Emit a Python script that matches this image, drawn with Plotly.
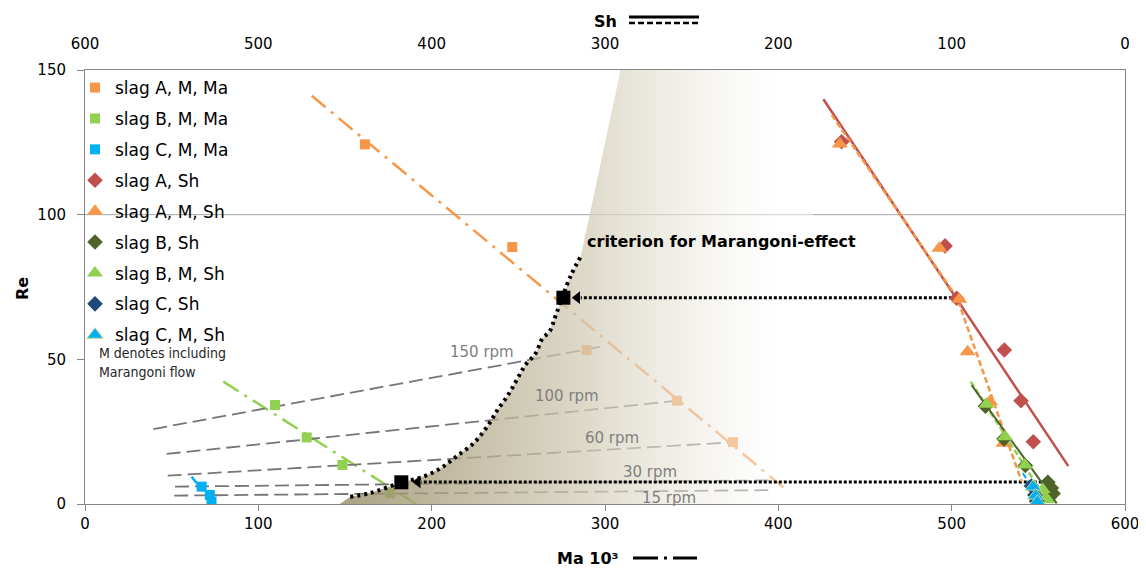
import plotly.graph_objects as go

# ---------------- data ----------------
# Series plotted against Ma 10^3 (bottom axis)
A_M_MA_X = [161.5, 246.5, 289.4, 341.5, 373.8]
A_M_MA_Y = [124.3, 88.8, 53.2, 35.7, 21.4]
B_M_MA_X = [109.6, 127.9, 148.5, 176.0]
B_M_MA_Y = [34.2, 23.0, 13.5, 3.7]
C_M_MA_X = [67.3, 72.0, 73.0]
C_M_MA_Y = [6.0, 3.1, 0.8]

# Trendlines (Ma)
A_MA_TREND_X = [130.8, 404.8]
A_MA_TREND_Y = [141.1, 4.8]
B_MA_TREND_X = [79.8, 191.0]
B_MA_TREND_Y = [42.3, 0.0]
C_MA_TREND_X = [61.5, 74.0]
C_MA_TREND_Y = [9.4, 0.2]

# Series plotted against Sh (top axis, reversed)
A_SH_X = [163.5, 103.8, 97.1, 69.6, 60.0, 52.9]
A_SH_Y = [125.2, 89.2, 71.1, 53.2, 35.7, 21.5]
A_M_SH_X = [164.5, 107.1, 95.6, 90.8, 77.9, 70.2]
A_M_SH_Y = [124.4, 88.4, 70.8, 52.6, 35.4, 21.0]
B_SH_X = [80.5, 69.8, 57.5, 44.5, 42.5, 41.5]
B_SH_Y = [33.8, 22.5, 13.3, 7.5, 5.5, 3.6]
B_M_SH_X = [80.0, 69.2, 57.7, 47.5, 46.0, 45.0]
B_M_SH_Y = [34.5, 23.2, 13.5, 5.0, 2.5, 1.5]
C_SH_X = [54.0, 52.0, 51.0]
C_SH_Y = [6.2, 3.1, 1.0]
C_M_SH_X = [53.0, 51.5, 50.5]
C_M_SH_Y = [6.0, 2.9, 0.8]

# Trendlines (Sh)
A_SH_TREND_X = [174.0, 32.7]
A_SH_TREND_Y = [139.9, 13.1]
A_M_SH_TREND_X = [169.2, 96.9, 59.6]
A_M_SH_TREND_Y = [134.5, 71.3, 7.7]
B_SH_TREND_X = [88.5, 39.4]
B_SH_TREND_Y = [41.1, 0.2]
B_M_SH_TREND_X = [89.0, 46.0]
B_M_SH_TREND_Y = [42.3, 2.0]
C_M_SH_TREND_X = [59.0, 49.0]
C_M_SH_TREND_Y = [10.7, 1.4]

# Rotation speed lines (Ma axis)
RPM_LABELS = ["150 rpm", "100 rpm", "60 rpm", "30 rpm", "15 rpm"]
RPM_X0 = [39.4, 47.1, 47.7, 51.9, 51.5]
RPM_Y0 = [25.9, 17.3, 9.8, 6.0, 2.9]
RPM_X1 = [298.0, 345.0, 373.0, 397.0, 397.0]
RPM_Y1 = [54.4, 35.9, 21.3, 8.2, 4.8]
RPM_LABEL_X = [228.8, 277.9, 303.8, 326.0, 337.0]
RPM_LABEL_Y = [52.6, 37.4, 22.7, 11.2, 2.0]

# Criterion for Marangoni effect (Ma axis)
CRIT_X = [153, 164, 183, 195, 205, 214, 224, 232, 238, 244, 249, 254, 260, 264, 268, 272, 280, 286]
CRIT_Y = [2.5, 3.7, 7.5, 9.4, 12.3, 16.3, 20.9, 26.7, 32.5, 37.6, 42.8, 48.0, 52.1, 57.3, 59.6, 65.9, 78.6, 85.5]
CRIT_PTS_X = [276.0, 182.5]
CRIT_PTS_Y = [71.3, 7.5]

# Shaded region boundary (Ma axis)
SHADE_X = [147] + CRIT_X + [309, 420, 420]
SHADE_Y = [0] + CRIT_Y + [150, 150, 0]

# Arrows (from Sh-series points to criterion)
ARROW_TAIL_X = [503.0, 552.0]
ARROW_TIP_X = [282.0, 190.0]
ARROW_Y = [71.3, 7.6]

GRID_RE = 100

# ---------------- styles ----------------
ORANGE = "#F79646"
GREEN = "#92D050"
BLUE = "#00B0F0"
RED = "#C0504D"
DGREEN = "#4F6228"
DBLUE = "#1F497D"
FONT = "DejaVu Sans, Arial, sans-serif"
NARROW = "DejaVu Sans Condensed, DejaVu Sans, Arial"

# page body has an 8px margin: figure is laid out in screen pixels minus 8
OFF = 8
W, H = 1146 - OFF, 570 - OFF
PL, PR, PT, PB = 85, 1125, 70, 504          # plot area in screen pixels
ML, MT = PL - OFF, PT - OFF
MR, MB = W - (PR - OFF), H - (PB - OFF)
PW, PH = PR - PL, PB - PT


def px(x):
    return (x - PL) / PW


def py(y):
    return (PB - y) / PH


fig = go.Figure()

# --- Ma trendlines ---
for xs, ys, col in [(A_MA_TREND_X, A_MA_TREND_Y, ORANGE),
                    (B_MA_TREND_X, B_MA_TREND_Y, GREEN),
                    (C_MA_TREND_X, C_MA_TREND_Y, BLUE)]:
    fig.add_trace(go.Scatter(x=xs, y=ys, mode="lines", showlegend=False, hoverinfo="skip",
                             line=dict(color=col, width=2.5, dash="18px,7px,3px,7px")))

# --- rpm lines ---
for i in range(len(RPM_LABELS)):
    fig.add_trace(go.Scatter(x=[RPM_X0[i], RPM_X1[i]], y=[RPM_Y0[i], RPM_Y1[i]], mode="lines",
                             showlegend=False, hoverinfo="skip",
                             line=dict(color="#767676", width=1.8, dash="14px,6px")))

# --- Ma markers ---
fig.add_trace(go.Scatter(x=A_M_MA_X, y=A_M_MA_Y, mode="markers", name="slag A, M, Ma",
                         legendgroup="g1", marker=dict(symbol="square", size=10, color=ORANGE)))
fig.add_trace(go.Scatter(x=B_M_MA_X, y=B_M_MA_Y, mode="markers", name="slag B, M, Ma",
                         legendgroup="g2", marker=dict(symbol="square", size=10, color=GREEN)))
fig.add_trace(go.Scatter(x=C_M_MA_X, y=C_M_MA_Y, mode="markers", name="slag C, M, Ma",
                         legendgroup="g3", marker=dict(symbol="square", size=10, color=BLUE)))

# --- shaded region (gradient, on top of earlier marks) ---
fig.add_trace(go.Scatter(x=SHADE_X, y=SHADE_Y, mode="lines", fill="toself", showlegend=False,
                         hoverinfo="skip", line=dict(width=0, color="rgba(0,0,0,0)"),
                         fillgradient=dict(type="horizontal", start=150, stop=400,
                                           colorscale=[[0, "rgba(148,137,98,0.78)"],
                                                       [0.55, "rgba(210,204,182,0.75)"],
                                                       [1, "rgba(255,255,255,0.45)"]])))

# --- criterion curve ---
fig.add_trace(go.Scatter(x=CRIT_X, y=CRIT_Y, mode="lines", showlegend=False, hoverinfo="skip",
                         line=dict(color="black", width=4, dash="3px,4px", shape="spline")))

# --- arrows ---
for i in range(len(ARROW_Y)):
    fig.add_trace(go.Scatter(x=[ARROW_TAIL_X[i], ARROW_TIP_X[i] + 4], y=[ARROW_Y[i], ARROW_Y[i]],
                             mode="lines", showlegend=False, hoverinfo="skip",
                             line=dict(color="black", width=3, dash="3px,2px")))
    fig.add_trace(go.Scatter(x=[ARROW_TIP_X[i] + 2], y=[ARROW_Y[i]], mode="markers",
                             showlegend=False, hoverinfo="skip",
                             marker=dict(symbol="triangle-left", size=11, color="black")))

fig.add_trace(go.Scatter(x=CRIT_PTS_X, y=CRIT_PTS_Y, mode="markers", showlegend=False,
                         hoverinfo="skip", marker=dict(symbol="square", size=14, color="black")))

# --- Sh trendlines ---
fig.add_trace(go.Scatter(x=A_SH_TREND_X, y=A_SH_TREND_Y, xaxis="x2", mode="lines", showlegend=False,
                         hoverinfo="skip", line=dict(color=RED, width=2.5)))
fig.add_trace(go.Scatter(x=A_M_SH_TREND_X, y=A_M_SH_TREND_Y, xaxis="x2", mode="lines", showlegend=False,
                         hoverinfo="skip", line=dict(color=ORANGE, width=2.5, dash="6px,3px")))
fig.add_trace(go.Scatter(x=B_M_SH_TREND_X, y=B_M_SH_TREND_Y, xaxis="x2", mode="lines", showlegend=False,
                         hoverinfo="skip", line=dict(color=GREEN, width=2.5, dash="6px,3px")))
fig.add_trace(go.Scatter(x=B_SH_TREND_X, y=B_SH_TREND_Y, xaxis="x2", mode="lines", showlegend=False,
                         hoverinfo="skip", line=dict(color=DGREEN, width=2)))
fig.add_trace(go.Scatter(x=C_M_SH_TREND_X, y=C_M_SH_TREND_Y, xaxis="x2", mode="lines", showlegend=False,
                         hoverinfo="skip", line=dict(color=BLUE, width=2, dash="6px,3px")))

# --- Sh markers ---
fig.add_trace(go.Scatter(x=A_SH_X, y=A_SH_Y, xaxis="x2", mode="markers", name="slag A, Sh",
                         legendgroup="g4", marker=dict(symbol="diamond", size=12, color=RED)))
fig.add_trace(go.Scatter(x=A_M_SH_X, y=A_M_SH_Y, xaxis="x2", mode="markers", name="slag A, M, Sh",
                         legendgroup="g5", marker=dict(symbol="triangle-up", size=14, color=ORANGE)))
fig.add_trace(go.Scatter(x=B_SH_X, y=B_SH_Y, xaxis="x2", mode="markers", name="slag B, Sh",
                         legendgroup="g6", marker=dict(symbol="diamond", size=12, color=DGREEN)))
fig.add_trace(go.Scatter(x=B_M_SH_X, y=B_M_SH_Y, xaxis="x2", mode="markers", name="slag B, M, Sh",
                         legendgroup="g7", marker=dict(symbol="triangle-up", size=14, color=GREEN)))
fig.add_trace(go.Scatter(x=C_SH_X, y=C_SH_Y, xaxis="x2", mode="markers", name="slag C, Sh",
                         legendgroup="g8", marker=dict(symbol="diamond", size=12, color=DBLUE)))
fig.add_trace(go.Scatter(x=C_M_SH_X, y=C_M_SH_Y, xaxis="x2", mode="markers", name="slag C, M, Sh",
                         legendgroup="g9", marker=dict(symbol="triangle-up", size=14, color=BLUE,
                                                       line=dict(color="#C4D79B", width=1))))

# --- annotations ---
annotations = []
for i, lab in enumerate(RPM_LABELS):
    annotations.append(dict(x=RPM_LABEL_X[i], y=RPM_LABEL_Y[i], xref="x", yref="y", text=lab,
                            showarrow=False, xanchor="center", yanchor="middle",
                            font=dict(family=FONT, size=15, color="#808080")))
annotations += [
    dict(x=288.5, y=90.9, xref="x", yref="y", text="<b>criterion for Marangoni-effect</b>",
         showarrow=False, xanchor="left", yanchor="middle",
         font=dict(family=FONT, size=16, color="black")),
    dict(x=px(97), y=py(353), xref="paper", yref="paper", text="M denotes including",
         showarrow=False, xanchor="left", yanchor="middle",
         font=dict(family=NARROW, size=14, color="#262626")),
    dict(x=px(97), y=py(372), xref="paper", yref="paper", text="Marangoni flow",
         showarrow=False, xanchor="left", yanchor="middle",
         font=dict(family=NARROW, size=14, color="#262626")),
    dict(x=px(22), y=py(289), xref="paper", yref="paper", text="<b>Re</b>", textangle=-90,
         showarrow=False, xanchor="center", yanchor="middle",
         font=dict(family=FONT, size=16, color="black")),
    dict(x=px(621), y=py(558), xref="paper", yref="paper", text="<b>Ma 10³</b>",
         showarrow=False, xanchor="right", yanchor="middle",
         font=dict(family=FONT, size=16, color="black")),
    dict(x=px(619), y=py(21), xref="paper", yref="paper", text="<b>Sh</b>",
         showarrow=False, xanchor="right", yanchor="middle",
         font=dict(family=FONT, size=16, color="black")),
]

shapes = [
    dict(type="line", xref="x", yref="y", x0=0, x1=600, y0=GRID_RE, y1=GRID_RE,
         line=dict(color="#A6A6A6", width=1), layer="below"),
    # axis-title line symbols
    dict(type="line", xref="paper", yref="paper", x0=px(633), x1=px(697), y0=py(558), y1=py(558),
         line=dict(color="black", width=3, dash="25px,6px,3px,6px")),
    dict(type="line", xref="paper", yref="paper", x0=px(629), x1=px(699), y0=py(17), y1=py(17),
         line=dict(color="black", width=3)),
    dict(type="line", xref="paper", yref="paper", x0=px(629), x1=px(699), y0=py(23), y1=py(23),
         line=dict(color="black", width=2.5, dash="6px,3px")),
]

fig.update_layout(
    width=W, height=H,
    margin=dict(l=ML, r=MR, t=MT, b=MB, autoexpand=False),
    paper_bgcolor="white", plot_bgcolor="white",
    font=dict(family=FONT, size=15, color="black"),
    showlegend=True,
    legend=dict(x=px(75), y=py(70), xanchor="left", yanchor="top", bgcolor="rgba(0,0,0,0)",
                font=dict(family=FONT, size=17, color="black"), tracegroupgap=5.8,
                traceorder="grouped", itemwidth=30),
    xaxis=dict(range=[0, 600], dtick=100, showline=True, linecolor="#868686", linewidth=1,
               ticks="outside", ticklen=6, tickcolor="#868686", showgrid=False, zeroline=False,
               tickfont=dict(size=15)),
    xaxis2=dict(range=[600, 0], dtick=100, overlaying="x", side="top", showline=True,
                linecolor="#868686", linewidth=1, ticks="", showgrid=False, zeroline=False,
                ticklabelstandoff=14, tickfont=dict(size=15)),
    yaxis=dict(range=[0, 150], dtick=50, showline=True, mirror=True, linecolor="#868686",
               linewidth=1, ticks="outside", ticklen=7, tickcolor="#868686", showgrid=False,
               zeroline=False, ticklabelstandoff=8, tickfont=dict(size=15)),
    annotations=annotations,
    shapes=shapes,
)

fig.write_html("out.html")
